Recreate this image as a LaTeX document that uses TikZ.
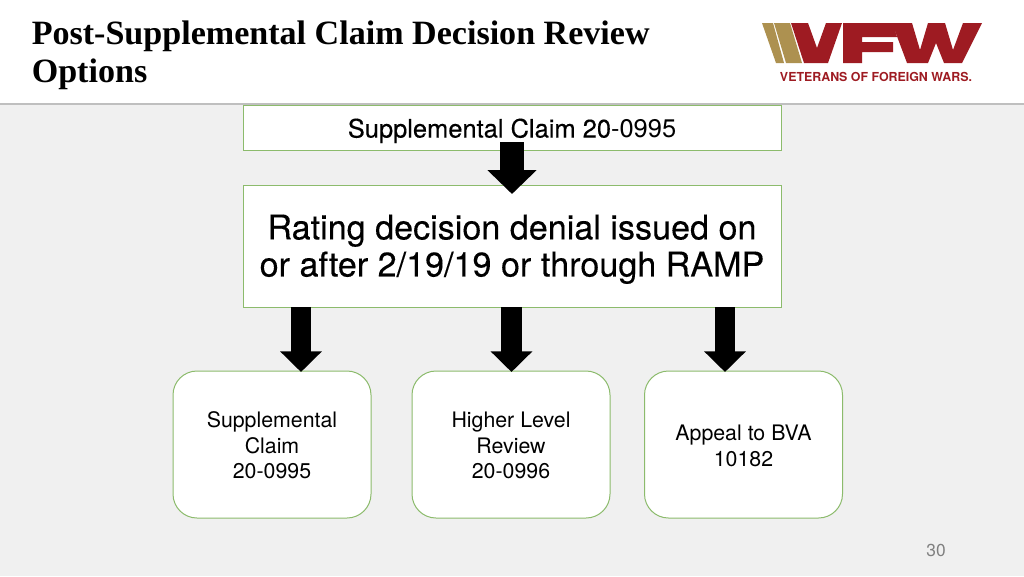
\documentclass[tikz,border=0pt]{standalone}
\usepackage{fontspec}
\setmainfont{TeX Gyre Heros}
\newfontfamily\titlefont{Liberation Serif}
\newfontfamily\heavyfont[FakeBold=0.25]{TeX Gyre Heros}
\usetikzlibrary{arrows.meta}
\definecolor{pagegrey}{HTML}{F0F0F0}
\definecolor{edgegreen}{HTML}{8CBB6C}
\definecolor{vfwred}{HTML}{9E1B22}
\definecolor{vfwgold}{HTML}{AD9150}
\tikzset{
 flatbox/.style={draw=edgegreen,fill=white,line width=0.75pt,rectangle,minimum height=0pt,inner sep=0pt,align=center},
 roundbox/.style={draw=edgegreen,fill=white,line width=0.75pt,rectangle,rounded corners=18pt,minimum width=148.5pt,minimum height=110.25pt,inner sep=0pt,align=center,font=\fontsize{16pt}{19.1pt}\selectfont},
 bigarrow/.style={draw=black,line width=#1,-{Triangle[length=15.5pt,width=30.5pt]}},
 bigarrow/.default=15.5pt
}
\begin{document}
\begin{tikzpicture}[x=0.75pt,y=-0.75pt]
\useasboundingbox (0,0) rectangle (1024,576);
\fill[pagegrey] (0,0) rectangle (1024,576);
\fill[white] (0,0) rectangle (1024,103);
\fill[black!25] (0,103) rectangle (1024,105);
\node[anchor=north west,inner sep=0pt,align=left,font=\titlefont\bfseries\fontsize{25.55pt}{27.9pt}\selectfont] (title) at (31.5,21) {Post-Supplemental Claim Decision Review\\Options};
% logo
\fill[vfwgold] (762,23) -- (773,23) -- (784,63) -- (776,63) -- cycle;
\fill[vfwgold] (774,23) -- (790,23) -- (802,63) -- (786,63) -- cycle;
\fill[vfwred] (791,23) -- (808,23) -- (817,48) -- (826,23) -- (842,23) -- (828,63) -- (804,63) -- cycle;
\fill[vfwred] (843,23) -- (893,23) -- (897,37) -- (862,37) -- (862,42) -- (893,42) -- (893,52) -- (862,52) -- (862,63) -- (843,63) -- cycle;
\fill[vfwred] (892,23) -- (912,23) -- (920,50) -- (928,23) -- (945,23) -- (953,50) -- (963,23) -- (982,23) -- (962,63) -- (944,63) -- (936,43) -- (928,63) -- (907,63) -- cycle;
\node[inner sep=0pt,text=vfwred,font=\bfseries\fontsize{9.3pt}{11pt}\selectfont] (tag) at (876,77) {VETERANS OF FOREIGN WARS.};
% boxes
\node[flatbox,minimum width=403.5pt,minimum height=33.75pt,font=\fontsize{19.1pt}{22pt}\selectfont] (top) at (512,128) {\rule{0pt}{18.5pt}{\heavyfont Supplemental Claim 20}-0995};
\node[flatbox,minimum width=403.5pt,minimum height=91.5pt,font=\heavyfont\fontsize{25.6pt}{27.8pt}\selectfont] (mid) at (512,246) {\rule{0pt}{23.5pt}Rating decision denial issued on\\or after 2/19/19 or through RAMP};
\node[roundbox] (a) at (272,444.5) {\rule{0pt}{13.5pt}Supplemental\\Claim\\20-0995};
\node[roundbox] (b) at (511,444.5) {\rule{0pt}{13.5pt}Higher Level\\Review\\20-0996};
\node[roundbox] (c) at (743.5,444.5) {\rule{0pt}{13.5pt}Appeal to BVA\\10182};
\node[text=black!50,inner sep=0pt,font=\fontsize{13pt}{15pt}\selectfont] (num) at (936,550) {30};
% arrows
\coordinate (t1) at (512,142); \coordinate (t2) at (512,194);
\draw[bigarrow=18pt,-{Triangle[length=18pt,width=36pt]}] (t1) -- (t2);
\coordinate (m1) at (301,307); \coordinate (m2) at (511.5,307); \coordinate (m3) at (725,307);
\coordinate (e1) at (301,372); \coordinate (e2) at (511.5,372); \coordinate (e3) at (725,372);
\draw[bigarrow] (m1) -- (e1);
\draw[bigarrow] (m2) -- (e2);
\draw[bigarrow] (m3) -- (e3);
\end{tikzpicture}
\end{document}
